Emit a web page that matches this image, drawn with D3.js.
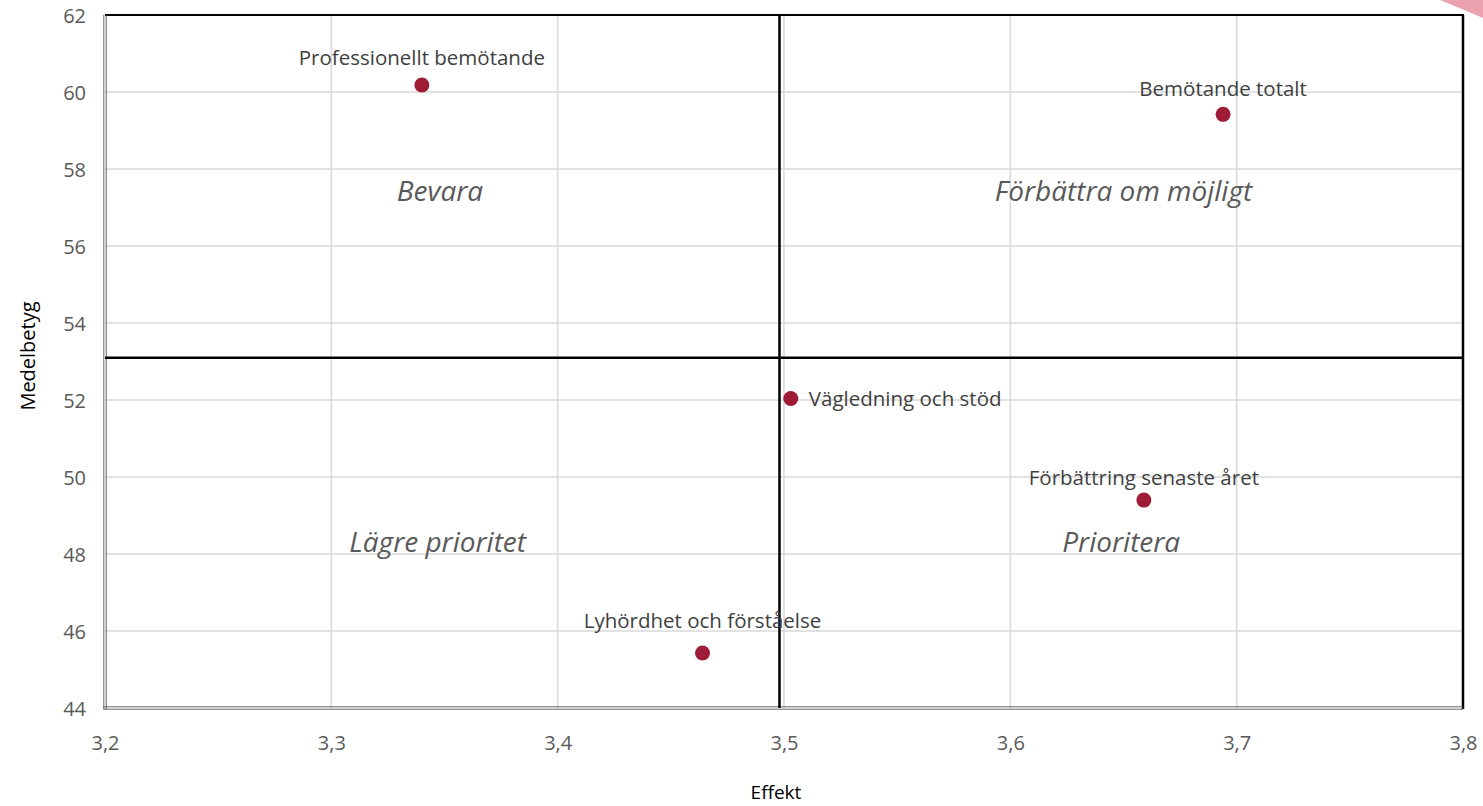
<!DOCTYPE html>
<html><head><meta charset="utf-8">
<script src="https://cdn.jsdelivr.net/npm/d3@7"></script>
<style>
html,body{margin:0;padding:0;background:#fff;}
svg{display:block;font-family:"Open Sans",Calibri,sans-serif;}
</style></head>
<body><svg id="chart" width="1483" height="806"></svg>
<script>
const names = ["Professionellt bemötande","Bemötande totalt","Vägledning och stöd","Förbättring senaste året","Lyhördhet och förståelse"];
const effekt = [3.340, 3.694, 3.503, 3.659, 3.464];
const medelbetyg = [60.18, 59.42, 52.04, 49.40, 45.43];
const labelPos = ["top","top","right","top","top"];
const labelDy = [-28, -26, 0, -23, -33];

const xTicks = [3.2,3.3,3.4,3.5,3.6,3.7,3.8];
const yTicks = [44,46,48,50,52,54,56,58,60,62];
const crossX = 3.498, crossY = 53.10;

const quadNames = ["Bevara","Förbättra om möjligt","Lägre prioritet","Prioritera"];
const quadX = [3.348, 3.650, 3.347, 3.649];
const quadY = [57.45, 57.45, 48.34, 48.34];

const svg = d3.select("#chart");
const L=105, R=1463, T=15, B=708;
const x = d3.scaleLinear().domain([3.2,3.8]).range([L,R]);
const y = d3.scaleLinear().domain([44,62]).range([B,T]);

// decorative corner
svg.append("path").attr("d","M1440,0 L1483,0 L1483,18 Q1460,8 1440,0Z").attr("fill","#e8909f").attr("opacity",0.85);

// gridlines
svg.append("g").selectAll("line").data(xTicks.slice(1,-1)).join("line")
  .attr("x1",d=>x(d)).attr("x2",d=>x(d)).attr("y1",T).attr("y2",B)
  .attr("stroke","#d9d9d9").attr("stroke-width",1.5);
svg.append("g").selectAll("line").data(yTicks.slice(1,-1)).join("line")
  .attr("y1",d=>y(d)).attr("y2",d=>y(d)).attr("x1",L).attr("x2",R)
  .attr("stroke","#d9d9d9").attr("stroke-width",1.5);

// axes (labels only)
const xAxis = d3.axisBottom(x).tickValues(xTicks).tickSize(0).tickFormat(d=>d3.format(".1f")(d).replace(".",","));
const gx = svg.append("g").attr("transform",`translate(0,${B})`).call(xAxis);
gx.select(".domain").remove();
gx.selectAll("text").attr("dy",0).attr("y",34).attr("dominant-baseline","central").attr("font-size",20).attr("fill","#595959").attr("font-family","Open Sans");
const yAxis = d3.axisLeft(y).tickValues(yTicks).tickSize(0).tickFormat(d3.format("d"));
const gy = svg.append("g").attr("transform",`translate(${L},0)`).call(yAxis);
gy.select(".domain").remove();
gy.selectAll("text").attr("x",-19).attr("dy",0).attr("dominant-baseline","central").attr("font-size",20).attr("fill","#595959").attr("font-family","Open Sans");

// borders
svg.append("line").attr("x1",L).attr("x2",R+1).attr("y1",T).attr("y2",T).attr("stroke","#000").attr("stroke-width",2.2);
svg.append("line").attr("x1",R).attr("x2",R).attr("y1",T).attr("y2",B+1).attr("stroke","#000").attr("stroke-width",2.5);
[-1.2,1.2].forEach(o=>{
  svg.append("line").attr("x1",L+o).attr("x2",L+o).attr("y1",T).attr("y2",B+1.5).attr("stroke","#555").attr("stroke-width",0.9);
  svg.append("line").attr("x1",L-1.5).attr("x2",R).attr("y1",B+o).attr("y2",B+o).attr("stroke","#555").attr("stroke-width",0.9);
});

// cross lines
svg.append("line").attr("x1",x(crossX)).attr("x2",x(crossX)).attr("y1",T).attr("y2",B).attr("stroke","#000").attr("stroke-width",2.5);
svg.append("line").attr("x1",L).attr("x2",R).attr("y1",y(crossY)).attr("y2",y(crossY)).attr("stroke","#000").attr("stroke-width",2.5);

// quadrant labels
svg.append("g").selectAll("text").data(quadNames).join("text")
  .attr("x",(d,i)=>x(quadX[i])).attr("y",(d,i)=>y(quadY[i]))
  .attr("text-anchor","middle").attr("dominant-baseline","central")
  .attr("font-style","italic").attr("font-size",28).attr("fill","#595959").text(d=>d);

// points
svg.append("g").selectAll("circle").data(names).join("circle")
  .attr("cx",(d,i)=>x(effekt[i])).attr("cy",(d,i)=>y(medelbetyg[i])).attr("r",7.5)
  .attr("fill","#9e1c35");

// data labels
svg.append("g").selectAll("text").data(names).join("text")
  .attr("x",(d,i)=>x(effekt[i]) + (labelPos[i]==="right"?18:0))
  .attr("y",(d,i)=>y(medelbetyg[i]) + labelDy[i])
  .attr("text-anchor",(d,i)=>labelPos[i]==="right"?"start":"middle")
  .attr("dominant-baseline","central")
  .attr("font-size",20.5).attr("fill","#404040").text(d=>d);

// axis titles
svg.append("text").attr("x",776).attr("y",799).attr("text-anchor","middle")
  .attr("font-size",19).attr("fill","#000").text("Effekt");
svg.append("text").attr("transform","translate(27,356) rotate(-90)").attr("text-anchor","middle").attr("dominant-baseline","central")
  .attr("font-size",20).attr("fill","#000").text("Medelbetyg");
</script></body></html>
